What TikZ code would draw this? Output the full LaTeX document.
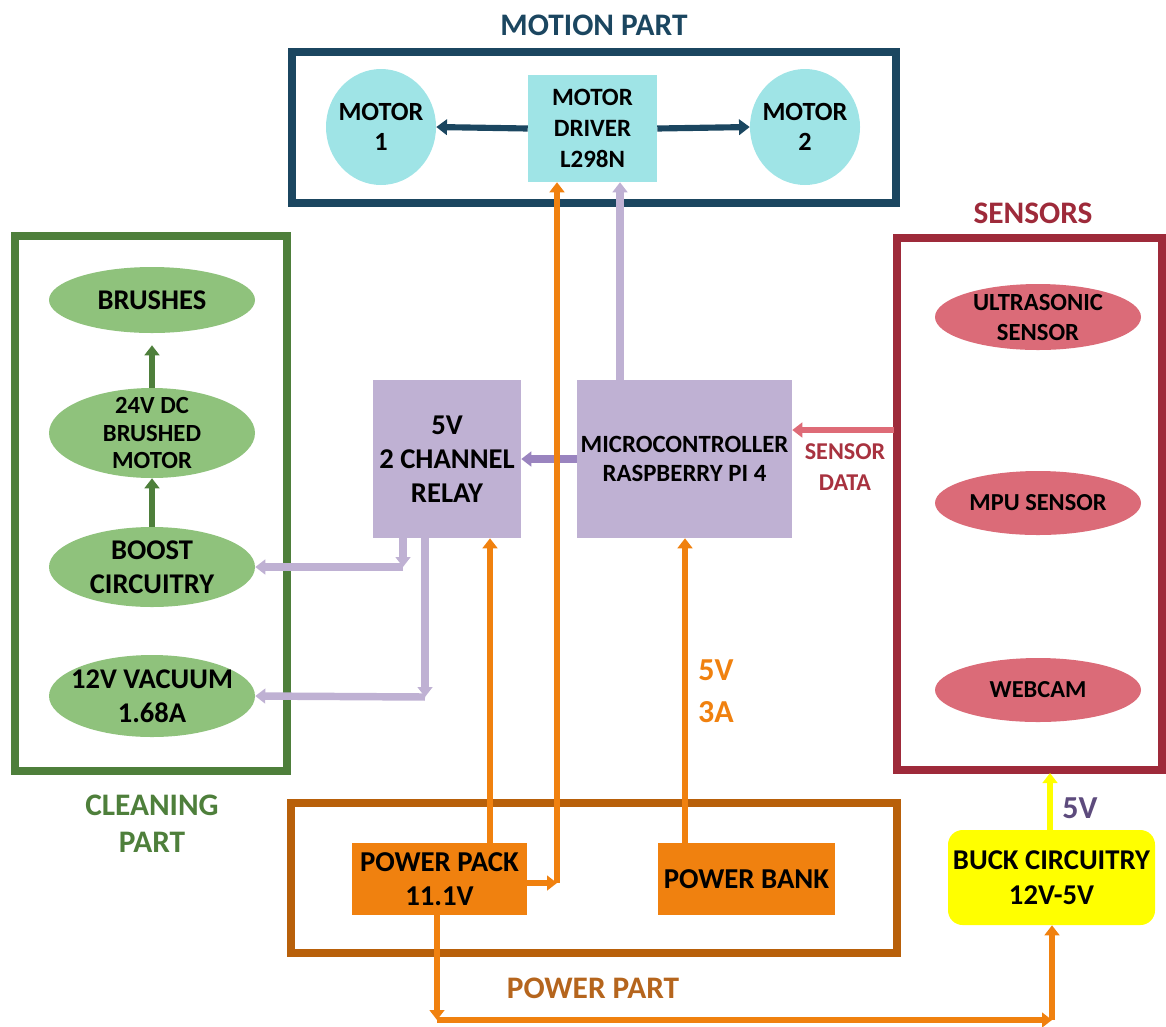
\documentclass[tikz,border=0pt]{standalone}
\usepackage{fontspec}
\setmainfont{Carlito}
\usetikzlibrary{arrows.meta,shapes.geometric}
\definecolor{navy}{HTML}{1B4660}
\definecolor{cyanfill}{HTML}{9FE4E6}
\definecolor{grn}{HTML}{4E7F3B}
\definecolor{grnfill}{HTML}{8FC27C}
\definecolor{maroon}{HTML}{9E2A3A}
\definecolor{sensfill}{HTML}{DB6B78}
\definecolor{sensarrow}{HTML}{DE6B77}
\definecolor{sdtxt}{HTML}{A8323F}
\definecolor{lav}{HTML}{BFB1D3}
\definecolor{lavdark}{HTML}{9A84BF}
\definecolor{orng}{HTML}{F0810F}
\definecolor{brwn}{HTML}{B8600A}
\definecolor{brwntxt}{HTML}{B5651D}
\definecolor{ylw}{HTML}{FFFF00}
\definecolor{purptxt}{HTML}{5D4B7D}
\tikzset{
  box/.style={rectangle,inner sep=0pt,align=center,font=\bfseries},
  oval/.style={ellipse,inner sep=0pt},
  otext/.style={inner sep=0pt,align=center},
  frame/.style={line width=5.5pt},
  title/.style={font=\bfseries\fontsize{23.5}{28}\selectfont,align=center,inner sep=0pt},
  navyarr/.style={draw=navy,line width=4.6pt,-{Triangle[length=8pt,width=11.5pt]}},
  grnarr/.style={draw=grn,line width=4.6pt,-{Triangle[length=7.5pt,width=11pt]}},
  lavarr/.style={draw=lav,line width=5.6pt,-{Triangle[length=7.5pt,width=11pt]}},
  lavdarr/.style={draw=lavdark,line width=5.4pt,-{Triangle[length=7.5pt,width=11pt]}},
  orarr/.style={draw=orng,line width=5pt,-{Triangle[length=7.5pt,width=11pt]}},
  yarr/.style={draw=ylw,line width=5pt,-{Triangle[length=7.5pt,width=11pt]}},
  sarr/.style={draw=sensarrow,line width=4.8pt,-{Triangle[length=7.5pt,width=11pt]}},
}
\begin{document}
\begin{tikzpicture}[x=0.75pt,y=-0.75pt]
\useasboundingbox (0,0) rectangle (1166,1026);
% frames
\draw[frame,draw=navy] (292,52) rectangle (896,203);
\draw[frame,draw=grn] (15,236) rectangle (287,771);
\draw[frame,draw=maroon] (897,238) rectangle (1162,770);
\draw[frame,draw=brwn] (291,803) rectangle (897,953);
% titles
\node[title,text=navy] (tmotion) at (594,25) {MOTION PART};
\node[title,text=maroon] (tsens) at (1033,213) {SENSORS};
\node[title,text=grn] (tclean) at (152,824) {CLEANING\\PART};
\node[title,text=brwntxt] (tpower) at (593,988) {POWER PART};
% motion part
\node[box,fill=cyanfill,minimum width=96.75pt,minimum height=80.25pt,font=\bfseries\fontsize{18.7}{23.2}\selectfont] (driver) at (592.5,128.5) {MOTOR\\DRIVER\\L298N};
\node[oval,fill=cyanfill,minimum width=82.5pt,minimum height=87pt] (m1) at (381,127) {};
\node[otext,font=\bfseries\fontsize{19.7}{23}\selectfont] (m1t) at (m1) {MOTOR\\1};
\node[oval,fill=cyanfill,minimum width=82.5pt,minimum height=87pt] (m2) at (805,127) {};
\node[otext,font=\bfseries\fontsize{19.7}{23}\selectfont] (m2t) at (m2) {MOTOR\\2};
% cleaning part
\node[oval,fill=grnfill,minimum width=154.5pt,minimum height=49.5pt] (brush) at (152,300) {};
\node[otext,font=\bfseries\fontsize{21.4}{26}\selectfont] (brusht) at (brush) {BRUSHES};
\node[oval,fill=grnfill,minimum width=154.5pt,minimum height=67.5pt] (dcm) at (152,433) {};
\node[otext,font=\bfseries\fontsize{18.5}{20.6}\selectfont] (dcmt) at (dcm) {24V DC\\BRUSHED\\MOTOR};
\node[oval,fill=grnfill,minimum width=154.5pt,minimum height=60pt] (boost) at (152,567) {};
\node[otext,font=\bfseries\fontsize{21.4}{25.5}\selectfont] (boostt) at (boost) {BOOST\\CIRCUITRY};
\node[oval,fill=grnfill,minimum width=154.5pt,minimum height=61.5pt] (vac) at (152,696) {};
\node[otext,font=\bfseries\fontsize{21.4}{25.5}\selectfont] (vact) at (vac) {12V VACUUM\\1.68A};
% sensors
\node[oval,fill=sensfill,minimum width=154.5pt,minimum height=49.5pt] (ultra) at (1038,317) {};
\node[otext,font=\bfseries\fontsize{18.5}{22.5}\selectfont] (ultrat) at (ultra) {ULTRASONIC\\SENSOR};
\node[oval,fill=sensfill,minimum width=154.5pt,minimum height=48pt] (mpu) at (1038,503) {};
\node[otext,font=\bfseries\fontsize{18.3}{22.5}\selectfont] (mput) at (mpu) {MPU SENSOR};
\node[oval,fill=sensfill,minimum width=154.5pt,minimum height=48pt] (cam) at (1038,690) {};
\node[otext,font=\bfseries\fontsize{18.3}{22.5}\selectfont] (camt) at (cam) {WEBCAM};
% center blocks
\node[box,fill=lav,minimum width=111pt,minimum height=118.5pt,font=\bfseries\fontsize{21.5}{25.5}\selectfont] (relay) at (447,459) {5V\\2 CHANNEL\\RELAY};
\node[box,fill=lav,minimum width=161.25pt,minimum height=118.5pt,font=\bfseries\fontsize{18.6}{22}\selectfont] (micro) at (684.5,459) {MICROCONTROLLER\\RASPBERRY PI 4};
% power part
\node[box,fill=orng,minimum width=131.25pt,minimum height=54pt,font=\bfseries\fontsize{21.6}{26}\selectfont] (pack) at (439.5,879) {POWER PACK\\11.1V};
\node[box,fill=orng,minimum width=132.75pt,minimum height=54pt,font=\bfseries\fontsize{21.6}{26}\selectfont] (bank) at (746.5,879) {POWER BANK};
\node[box,fill=ylw,rounded corners=11pt,minimum width=155.25pt,minimum height=71.25pt,font=\bfseries\fontsize{21.5}{26}\selectfont] (buck) at (1051.5,877.5) {BUCK CIRCUITRY\\12V-5V};
% labels
\node[font=\bfseries\fontsize{24}{31.5}\selectfont,text=orng,align=center,inner sep=0pt] (l5v3a) at (716,691) {5V\\3A};
\node[font=\bfseries\fontsize{18.1}{23}\selectfont,text=sdtxt,align=center,inner sep=0pt] (lsd) at (845,467) {SENSOR\\DATA};
\node[font=\bfseries\fontsize{24}{28}\selectfont,text=purptxt,inner sep=0pt] (l5v) at (1080,808) {5V};
% helper coordinates
\coordinate (x403) at (403,0);
\coordinate (x425) at (425,0);
\coordinate (x490) at (490,0);
\coordinate (x437) at (437,0);
\coordinate (x620) at (620,0);
\coordinate (x685) at (685,0);
\coordinate (x1050) at (1050,0);
\coordinate (j1) at (557,883);
\coordinate (r1) at (403,567);
\coordinate (r2) at (425,697);
\coordinate (c1) at (437,1020);
\coordinate (c2) at (1052,1020);
\coordinate (sbot) at (1050,773);
\coordinate (sleft) at (894,430);
% motion arrows
\draw[navyarr] (driver.west) -- (m1.east);
\draw[navyarr] (driver.east) -- (m2.west);
% cleaning arrows
\draw[grnarr,shorten >=9pt] (dcm.north) -- (brush.south);
\draw[grnarr] (boost.north) -- (dcm.south);
% micro
\draw[lavdarr] (micro.west) -- (relay.east);
\draw[lavarr] (micro.north -| x620) -- (driver.south -| x620);
\draw[sarr] (sleft) -- (micro.east |- sleft);
% relay outputs
\draw[lavarr] (relay.south -| x403) -- (r1);
\draw[lavarr] (r1) -- (boost.east);
\draw[lavarr] (relay.south -| x425) -- (r2);
\draw[lavarr] (r2) -- (vac.east);
% power
\draw[orarr] (pack.north -| x490) -- (relay.south -| x490);
\draw[orarr] (pack.east |- j1) -- (j1);
\draw[orarr] (j1) -- (driver.south -| j1);
\draw[orarr] (bank.north -| x685) -- (micro.south -| x685);
\draw[orarr] (pack.south -| x437) -- (c1);
\draw[orarr] (c1) -- (c2);
\draw[orarr] (c2) -- (buck.south -| c2);
\draw[yarr] (buck.north -| x1050) -- (sbot);
\end{tikzpicture}
\end{document}
